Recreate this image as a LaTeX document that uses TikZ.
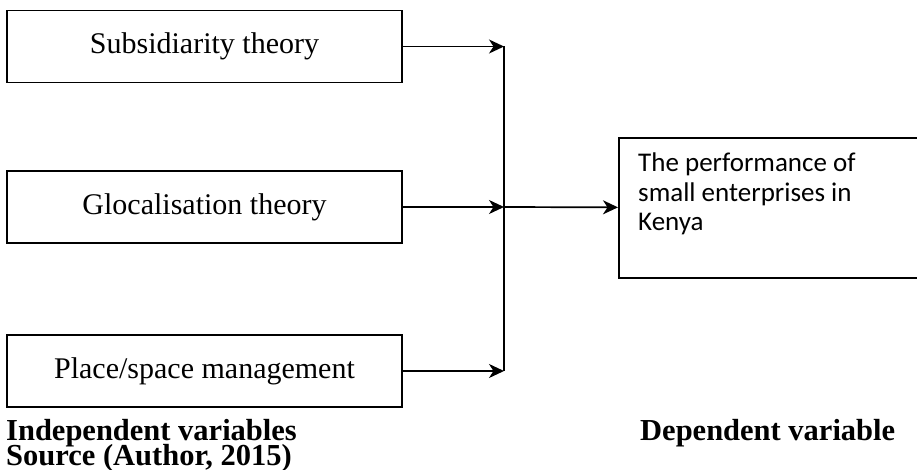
\documentclass[tikz,border=0pt]{standalone}
\usepackage{fontspec}
\setmainfont{Liberation Serif}
\newfontfamily\boxfont{Carlito}
\usetikzlibrary{arrows.meta}
\tikzset{
  varbox/.style={draw, black, line width=1.6pt, minimum width=395pt, minimum height=72pt, inner sep=0pt, font=\fontsize{30pt}{36pt}\selectfont},
  link/.style={black, line width=1.7pt},
  arrowlink/.style={link, -{Stealth[length=15pt,width=14pt,inset=4.5pt]}},
  legendtext/.style={anchor=base west, inner sep=0pt, font=\fontsize{30.5pt}{36pt}\selectfont\bfseries}
}
\begin{document}
\begin{tikzpicture}[x=1pt,y=-1pt]
  \useasboundingbox (0,0) rectangle (917,470);
  \node[varbox] (subsid) at (204.5,46.5) {Subsidiarity theory};
  \node[varbox] (glocal) at (204.5,207) {Glocalisation theory};
  \node[varbox] (place) at (204.5,371) {Place/space management};
  \node[draw, link, minimum width=301pt, minimum height=140pt, anchor=north west] (perf) at (618,137) {};
  \node[anchor=north west, align=left, inner sep=0pt, font=\boxfont\fontsize{27pt}{29.5pt}\selectfont] (perftext) at (638,153) {The performance of\\small enterprises in\\Kenya};
  \coordinate (join) at (504,207);
  \draw[arrowlink] (subsid) -- (subsid -| join);
  \draw[arrowlink] (glocal) -- (glocal -| join);
  \draw[arrowlink] (place) -- (place -| join);
  \draw[link] (subsid -| join) -- (place -| join);
  \draw[arrowlink] (join) -- (perf);
  \node[legendtext] (indep) at (6,440) {Independent variables};
  \node[legendtext] (source) at (6,465) {Source (Author, 2015)};
  \node[legendtext] (dep) at (640,440) {Dependent variable};
\end{tikzpicture}
\end{document}
